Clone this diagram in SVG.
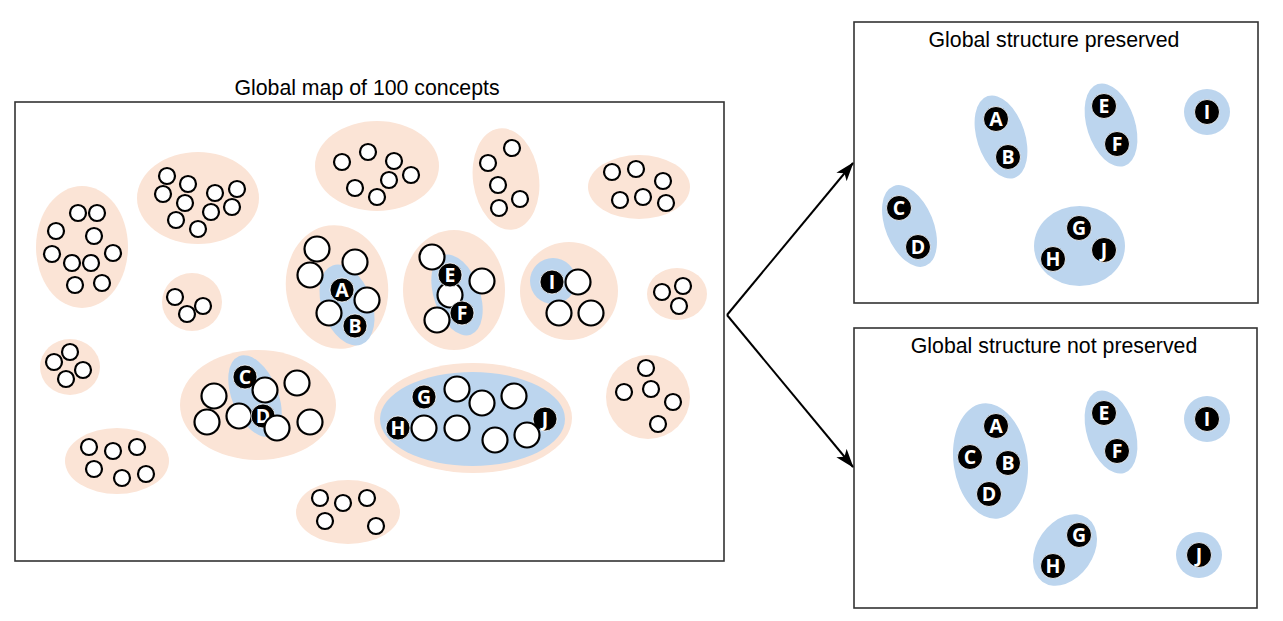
<svg xmlns="http://www.w3.org/2000/svg" width="1283" height="621" viewBox="0 0 1283 621">
<style>
.frame{fill:#ffffff;stroke:#333333;stroke-width:1.6}
.pc{fill:#fbe4d6}
.bl{fill:#bcd5ee}
.w{fill:#ffffff;stroke:#000000;stroke-width:2.2}
.k{fill:#000000;stroke:#ffffff;stroke-width:0.8}
.lt{font-family:"Open Sans","Liberation Sans",sans-serif;font-weight:bold;font-size:19.5px;fill:#ffffff;text-anchor:middle}
.ttl{font-family:"Liberation Sans",Arial,sans-serif;font-size:21.3px;fill:#000000;text-anchor:middle}
.con{fill:none;stroke:#000000;stroke-width:2}
</style>
<defs>
<marker id="ah" viewBox="0 0 20 14" refX="19" refY="7" markerWidth="19" markerHeight="13.3" markerUnits="userSpaceOnUse" orient="auto">
<path d="M0,0 L20,7 L0,14 L5,7 Z" fill="#000000"/>
</marker>
</defs>
<rect x="0" y="0" width="1283" height="621" fill="#ffffff"/>

<g id="global-map">
<rect class="frame" x="15" y="102" width="709" height="459"/>
<text class="ttl" x="367" y="95">Global map of 100 concepts</text>
</g>

<g id="cluster-1">
<ellipse class="pc" cx="82" cy="247" rx="46" ry="61"/>
<circle class="w" cx="78" cy="213" r="8"/><circle class="w" cx="97" cy="213" r="8"/>
<circle class="w" cx="56" cy="231" r="8"/><circle class="w" cx="94" cy="236" r="8"/>
<circle class="w" cx="52" cy="254" r="8"/><circle class="w" cx="72" cy="263" r="8"/>
<circle class="w" cx="91" cy="263" r="8"/><circle class="w" cx="113" cy="253" r="8"/>
<circle class="w" cx="75" cy="285" r="8"/><circle class="w" cx="102" cy="283" r="8"/>
</g>

<g id="cluster-2">
<ellipse class="pc" cx="198" cy="198" rx="61" ry="46"/>
<circle class="w" cx="167" cy="176" r="8"/><circle class="w" cx="163" cy="194" r="8"/>
<circle class="w" cx="188" cy="184" r="8"/><circle class="w" cx="185" cy="203" r="8"/>
<circle class="w" cx="215" cy="193" r="8"/><circle class="w" cx="237" cy="189" r="8"/>
<circle class="w" cx="232" cy="207" r="8"/><circle class="w" cx="211" cy="212" r="8"/>
<circle class="w" cx="176" cy="220" r="8"/><circle class="w" cx="198" cy="229" r="8"/>
</g>

<g id="cluster-3">
<ellipse class="pc" cx="192" cy="302" rx="30" ry="29"/>
<circle class="w" cx="175" cy="297" r="8"/><circle class="w" cx="187" cy="314" r="8"/>
<circle class="w" cx="203" cy="306" r="8"/>
</g>

<g id="cluster-4">
<ellipse class="pc" cx="377" cy="166" rx="62" ry="45"/>
<circle class="w" cx="342" cy="162" r="8"/><circle class="w" cx="368" cy="152" r="8"/>
<circle class="w" cx="394" cy="161" r="8"/><circle class="w" cx="411" cy="175" r="8"/>
<circle class="w" cx="389" cy="180" r="8"/><circle class="w" cx="355" cy="188" r="8"/>
<circle class="w" cx="377" cy="197" r="8"/>
</g>

<g id="cluster-5">
<ellipse class="pc" cx="506" cy="179" rx="33" ry="51" transform="rotate(-8 506 179)"/>
<circle class="w" cx="512" cy="148" r="8"/><circle class="w" cx="488" cy="163" r="8"/>
<circle class="w" cx="498" cy="185" r="8"/><circle class="w" cx="520" cy="199" r="8"/>
<circle class="w" cx="499" cy="208" r="8"/>
</g>

<g id="cluster-AB">
<ellipse class="pc" cx="337" cy="287" rx="51" ry="62" transform="rotate(-8 337 287)"/>
<ellipse class="bl" cx="347" cy="305" rx="25" ry="42" transform="rotate(-20 347 305)"/>
<circle class="w" cx="317" cy="249" r="12.5"/><circle class="w" cx="355" cy="262" r="12.5"/>
<circle class="w" cx="310" cy="275" r="12.5"/><circle class="w" cx="367" cy="300" r="12.5"/>
<circle class="w" cx="329" cy="313" r="12.5"/>
<circle class="k" cx="342" cy="290" r="12"/><text class="lt" x="342" y="297">A</text>
<circle class="k" cx="355" cy="326" r="12"/><text class="lt" x="355" y="333">B</text>
</g>

<g id="cluster-EF">
<ellipse class="pc" cx="454" cy="290" rx="51" ry="60"/>
<ellipse class="bl" cx="457" cy="295" rx="23" ry="42" transform="rotate(-19 457 295)"/>
<circle class="w" cx="432" cy="257" r="12.5"/><circle class="w" cx="482" cy="281" r="12.5"/>
<circle class="w" cx="450" cy="295" r="12.5"/>
<circle class="k" cx="450" cy="275" r="12"/><text class="lt" x="450" y="282">E</text>
<circle class="k" cx="462" cy="313" r="12"/><text class="lt" x="462" y="320">F</text>
<circle class="w" cx="437" cy="320" r="12.5"/>
</g>

<g id="cluster-8">
<ellipse class="pc" cx="639" cy="187" rx="51" ry="32"/>
<circle class="w" cx="612" cy="172" r="8"/><circle class="w" cx="636" cy="169" r="8"/>
<circle class="w" cx="663" cy="181" r="8"/><circle class="w" cx="620" cy="200" r="8"/>
<circle class="w" cx="643" cy="197" r="8"/><circle class="w" cx="666" cy="203" r="8"/>
</g>

<g id="cluster-I">
<ellipse class="pc" cx="569" cy="291" rx="49" ry="49"/>
<circle class="bl" cx="553" cy="281" r="23"/>
<circle class="k" cx="552" cy="282" r="12"/><text class="lt" x="552" y="289">I</text>
<circle class="w" cx="578" cy="282" r="12.5"/>
<circle class="w" cx="559" cy="313" r="12.5"/><circle class="w" cx="591" cy="313" r="12.5"/>
</g>

<g id="cluster-10">
<ellipse class="pc" cx="677" cy="294" rx="30" ry="26"/>
<circle class="w" cx="662" cy="292" r="8"/><circle class="w" cx="683" cy="286" r="8"/>
<circle class="w" cx="679" cy="306" r="8"/>
</g>

<g id="cluster-11">
<ellipse class="pc" cx="70" cy="367" rx="30" ry="28"/>
<circle class="w" cx="70" cy="352" r="8"/><circle class="w" cx="54" cy="362" r="8"/>
<circle class="w" cx="83" cy="370" r="8"/><circle class="w" cx="66" cy="379" r="8"/>
</g>

<g id="cluster-12">
<ellipse class="pc" cx="117" cy="461" rx="52" ry="33"/>
<circle class="w" cx="89" cy="447" r="8"/><circle class="w" cx="113" cy="451" r="8"/>
<circle class="w" cx="137" cy="447" r="8"/><circle class="w" cx="94" cy="469" r="8"/>
<circle class="w" cx="122" cy="478" r="8"/><circle class="w" cx="146" cy="474" r="8"/>
</g>

<g id="cluster-CD">
<ellipse class="pc" cx="258" cy="405" rx="78" ry="55"/>
<ellipse class="bl" cx="255" cy="396" rx="23" ry="43" transform="rotate(-22 255 396)"/>
<circle class="w" cx="214" cy="396" r="12.5"/><circle class="w" cx="297" cy="383" r="12.5"/>
<circle class="w" cx="207" cy="422" r="12.5"/><circle class="w" cx="239" cy="416" r="12.5"/>
<circle class="w" cx="310" cy="422" r="12.5"/>
<circle class="k" cx="245" cy="377" r="12"/><text class="lt" x="245" y="384">C</text>
<circle class="w" cx="265" cy="390" r="12.5"/>
<circle class="k" cx="263" cy="416" r="12"/><text class="lt" x="263" y="423">D</text>
<circle class="w" cx="277" cy="428" r="12.5"/>
</g>

<g id="cluster-14">
<ellipse class="pc" cx="348" cy="512" rx="52" ry="32"/>
<circle class="w" cx="320" cy="498" r="8"/><circle class="w" cx="343" cy="503" r="8"/>
<circle class="w" cx="367" cy="498" r="8"/><circle class="w" cx="325" cy="521" r="8"/>
<circle class="w" cx="376" cy="526" r="8"/>
</g>

<g id="cluster-GHJ">
<ellipse class="pc" cx="473" cy="418" rx="99" ry="55"/>
<ellipse class="bl" cx="472.5" cy="419" rx="92.5" ry="47"/>
<circle class="k" cx="424" cy="397" r="12"/><text class="lt" x="424" y="404">G</text>
<circle class="k" cx="398" cy="428" r="12"/><text class="lt" x="398" y="435">H</text>
<circle class="k" cx="545" cy="419" r="12"/><text class="lt" x="545" y="426">J</text>
<circle class="w" cx="457" cy="389" r="12.5"/><circle class="w" cx="482" cy="403" r="12.5"/>
<circle class="w" cx="514" cy="396" r="12.5"/><circle class="w" cx="424" cy="428" r="12.5"/>
<circle class="w" cx="457" cy="428" r="12.5"/><circle class="w" cx="495" cy="440" r="12.5"/>
<circle class="w" cx="527" cy="435" r="12.5"/>
</g>

<g id="cluster-16">
<ellipse class="pc" cx="648" cy="397" rx="42" ry="42"/>
<circle class="w" cx="646" cy="368" r="8"/><circle class="w" cx="624" cy="392" r="8"/>
<circle class="w" cx="651" cy="389" r="8"/><circle class="w" cx="673" cy="402" r="8"/>
<circle class="w" cx="658" cy="424" r="8"/>
</g>

<g id="panel-preserved">
<rect class="frame" x="854" y="22" width="404" height="281"/>
<text class="ttl" x="1054" y="47">Global structure preserved</text>
<ellipse class="bl" cx="1001" cy="137" rx="24" ry="43" transform="rotate(-18 1001 137)"/>
<circle class="k" cx="996" cy="119" r="12.5"/><text class="lt" x="996" y="126">A</text>
<circle class="k" cx="1008" cy="157" r="12.5"/><text class="lt" x="1008" y="164">B</text>
<ellipse class="bl" cx="1111" cy="125" rx="24" ry="43" transform="rotate(-18 1111 125)"/>
<circle class="k" cx="1104" cy="106" r="12.5"/><text class="lt" x="1104" y="113">E</text>
<circle class="k" cx="1117" cy="144" r="12.5"/><text class="lt" x="1117" y="151">F</text>
<circle class="bl" cx="1207" cy="112" r="23"/>
<circle class="k" cx="1207" cy="112" r="12.5"/><text class="lt" x="1207" y="119">I</text>
<ellipse class="bl" cx="909.5" cy="226" rx="24" ry="43" transform="rotate(-22 909.5 226)"/>
<circle class="k" cx="899" cy="208" r="12.5"/><text class="lt" x="899" y="215">C</text>
<circle class="k" cx="918" cy="247" r="12.5"/><text class="lt" x="918" y="254">D</text>
<ellipse class="bl" cx="1079.5" cy="246" rx="45.5" ry="40"/>
<circle class="k" cx="1079" cy="228" r="12.5"/><text class="lt" x="1079" y="235">G</text>
<circle class="k" cx="1053" cy="259" r="12.5"/><text class="lt" x="1053" y="266">H</text>
<circle class="k" cx="1104" cy="250" r="12.5"/><text class="lt" x="1104" y="257">J</text>
</g>

<g id="panel-not-preserved">
<rect class="frame" x="854" y="328" width="403" height="280"/>
<text class="ttl" x="1054" y="353">Global structure not preserved</text>
<ellipse class="bl" cx="990.5" cy="461" rx="37" ry="58" transform="rotate(-8 990.5 461)"/>
<circle class="k" cx="996" cy="426" r="12.5"/><text class="lt" x="996" y="433">A</text>
<circle class="k" cx="970" cy="457" r="12.5"/><text class="lt" x="970" y="464">C</text>
<circle class="k" cx="1008" cy="463" r="12.5"/><text class="lt" x="1008" y="470">B</text>
<circle class="k" cx="989" cy="494" r="12.5"/><text class="lt" x="989" y="501">D</text>
<ellipse class="bl" cx="1111" cy="432" rx="24" ry="43" transform="rotate(-18 1111 432)"/>
<circle class="k" cx="1104" cy="413" r="12.5"/><text class="lt" x="1104" y="420">E</text>
<circle class="k" cx="1117" cy="451" r="12.5"/><text class="lt" x="1117" y="458">F</text>
<circle class="bl" cx="1207" cy="419" r="23"/>
<circle class="k" cx="1207" cy="419" r="12.5"/><text class="lt" x="1207" y="426">I</text>
<ellipse class="bl" cx="1065" cy="550" rx="28" ry="39" transform="rotate(35 1065 550)"/>
<circle class="k" cx="1079" cy="535" r="12.5"/><text class="lt" x="1079" y="542">G</text>
<circle class="k" cx="1053" cy="566" r="12.5"/><text class="lt" x="1053" y="573">H</text>
<circle class="bl" cx="1199" cy="555" r="23"/>
<circle class="k" cx="1199" cy="555" r="12.5"/><text class="lt" x="1199" y="562">J</text>
</g>

<g id="connectors">
<path class="con" d="M727,315 L853,163" marker-end="url(#ah)"/>
<path class="con" d="M727,315 L853,467" marker-end="url(#ah)"/>
</g>
</svg>
